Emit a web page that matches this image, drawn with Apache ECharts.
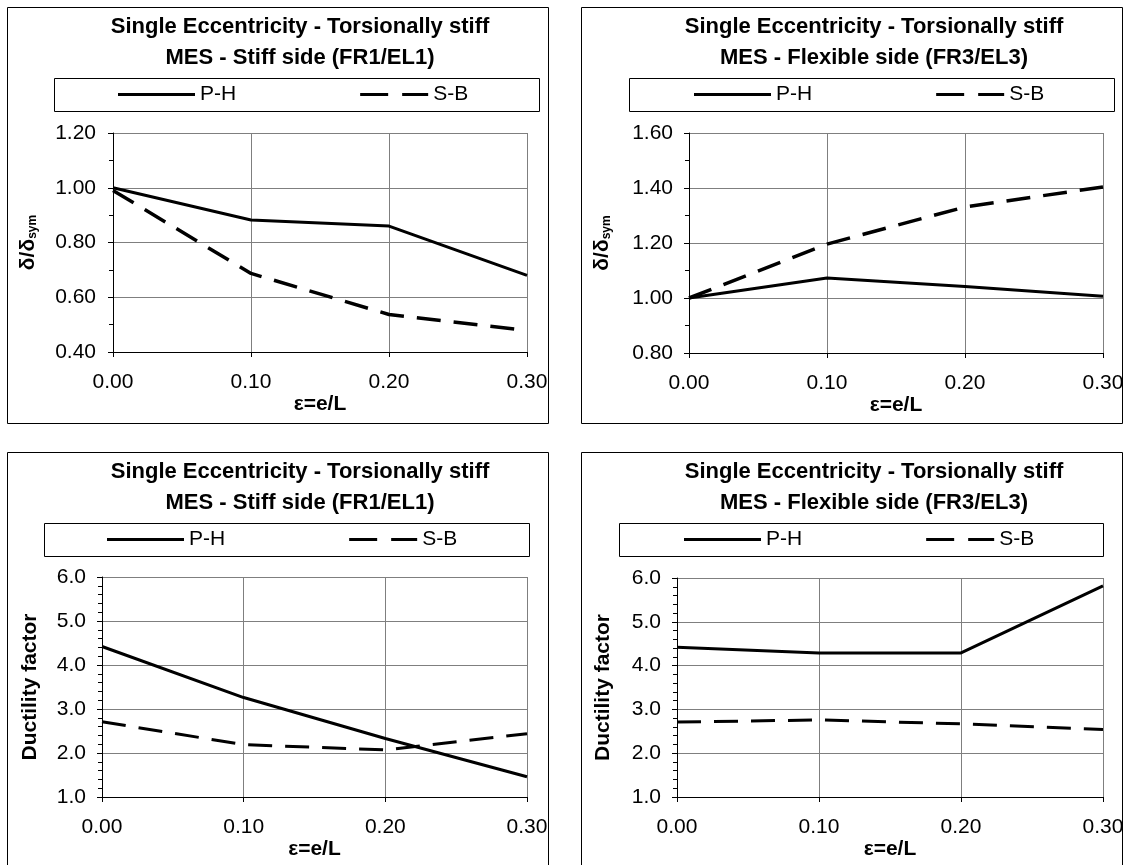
<!DOCTYPE html>
<html>
<head>
<meta charset="utf-8">
<script src="https://cdn.jsdelivr.net/npm/echarts@6/dist/echarts.min.js"></script>
<style>
html,body{margin:0;padding:0;background:#fff;}
#chart{width:1129px;height:865px;}
</style>
</head>
<body>
<div id="chart"></div>
<script>
// ---- data ----
const eccentricity = [0.00, 0.10, 0.20, 0.30];
const seriesNames = ['P-H', 'S-B'];
const titleLine1 = 'Single Eccentricity - Torsionally stiff';
const subtitleStiff = 'MES - Stiff side (FR1/EL1)';
const subtitleFlex = 'MES - Flexible side (FR3/EL3)';
const xAxisTitle = 'ε=e/L';
const dispAxisTitle = '{a|δ/δ}{b|sym}';
const ductAxisTitle = 'Ductility factor';

const stiffDispPH = [1.00, 0.882, 0.860, 0.680];
const stiffDispSB = [0.99, 0.687, 0.537, 0.479];
const flexDispPH  = [1.00, 1.073, 1.042, 1.006];
const flexDispSB  = [1.00, 1.196, 1.331, 1.404];
const stiffDuctPH = [4.42, 3.26, 2.33, 1.46];
const stiffDuctSB = [2.71, 2.19, 2.07, 2.44];
const flexDuctPH  = [4.42, 4.29, 4.29, 5.82];
const flexDuctSB  = [2.71, 2.76, 2.67, 2.54];

// ---- styling / layout ----
const FONT = '"Liberation Sans", Arial, sans-serif';
const pairs = arr => eccentricity.map((x, i) => [x, arr[i]]);
const ICON_SOLID = 'path://M0,0H77V3H0Z';
const ICON_DASH = 'path://M0,0L0,3M9,0H37V3H9ZM51,0H77V3H51Z';

const panels = [
  {sub: subtitleStiff, ph: stiffDispPH, sb: stiffDispSB, yMin: 0.4, yMax: 1.2, yInt: 0.2, dec: 2, minor: 2, yName: dispAxisTitle, dashW: 3.5,
   grid: {left: 113, top: 133, width: 414, height: 219}, border: [7, 7, 541, 416], legBox: [54, 78, 485, 33], legLeft: 118, legTop: 84,
   titleX: 300, titleY: 27, yGap: 74, yLabMargin: 17},
  {sub: subtitleFlex, ph: flexDispPH, sb: flexDispSB, yMin: 0.8, yMax: 1.6, yInt: 0.2, dec: 2, minor: 2, yName: dispAxisTitle, dashW: 3.5,
   grid: {left: 689, top: 133, width: 414, height: 220}, border: [581, 7, 541, 416], legBox: [629, 78, 485, 33], legLeft: 694, legTop: 84,
   titleX: 874, titleY: 27, yGap: 76, yLabMargin: 16},
  {sub: subtitleStiff, ph: stiffDuctPH, sb: stiffDuctSB, yMin: 1, yMax: 6, yInt: 1, dec: 1, minor: 5, yName: ductAxisTitle, dashW: 3,
   grid: {left: 102, top: 577, width: 425, height: 220}, border: [7, 452, 541, 430], legBox: [44, 523, 485, 33], legLeft: 107, legTop: 529,
   titleX: 300, titleY: 472, yGap: 61, yLabMargin: 16},
  {sub: subtitleFlex, ph: flexDuctPH, sb: flexDuctSB, yMin: 1, yMax: 6, yInt: 1, dec: 1, minor: 5, yName: ductAxisTitle, dashW: 3,
   grid: {left: 677, top: 578, width: 426, height: 219}, border: [581, 452, 541, 430], legBox: [619, 523, 484, 33], legLeft: 684, legTop: 529,
   titleX: 874, titleY: 472, yGap: 63, yLabMargin: 16}
];

const option = {
  backgroundColor: '#fff',
  animation: false,
  textStyle: {fontFamily: FONT, color: '#000'},
  grid: [], xAxis: [], yAxis: [], series: [], legend: [], graphic: []
};

panels.forEach((p, k) => {
  option.grid.push(Object.assign({containLabel: false}, p.grid));
  option.xAxis.push({
    type: 'value', gridIndex: k, min: 0, max: 0.3, interval: 0.1,
    name: xAxisTitle, nameLocation: 'middle', nameGap: 42,
    nameTextStyle: {fontSize: 21, fontWeight: 'bold', color: '#000', fontFamily: FONT},
    axisLine: {show: true, onZero: false, lineStyle: {color: '#000', width: 1}},
    axisTick: {show: true, inside: false, length: 5, lineStyle: {color: '#000'}},
    axisLabel: {fontSize: 21, color: '#000', margin: 20, fontFamily: FONT, formatter: v => v.toFixed(2)},
    splitLine: {show: true, lineStyle: {color: '#7f7f7f', width: 1}}
  });
  option.yAxis.push({
    type: 'value', gridIndex: k, min: p.yMin, max: p.yMax, interval: p.yInt,
    name: p.yName, nameLocation: 'middle', nameRotate: 90, nameGap: p.yGap,
    nameTextStyle: {fontSize: 21, fontWeight: 'bold', color: '#000', fontFamily: FONT,
      rich: {
        a: {fontSize: 21, fontWeight: 'bold', color: '#000', fontFamily: FONT, verticalAlign: 'bottom'},
        b: {fontSize: 12, fontWeight: 'bold', color: '#000', fontFamily: FONT, verticalAlign: 'bottom'}
      }},
    axisLine: {show: true, lineStyle: {color: '#000', width: 1}},
    axisTick: {show: true, inside: false, length: 5, lineStyle: {color: '#000'}},
    minorTick: {show: true, splitNumber: p.minor, length: 4, lineStyle: {color: '#000'}},
    axisLabel: {fontSize: 21, color: '#000', margin: p.yLabMargin, fontFamily: FONT, formatter: v => v.toFixed(p.dec)},
    splitLine: {show: true, lineStyle: {color: '#7f7f7f', width: 1}}
  });
  option.series.push({
    type: 'line', name: seriesNames[0], xAxisIndex: k, yAxisIndex: k, data: pairs(p.ph),
    symbol: 'none', lineStyle: {color: '#000', width: 3, type: 'solid'}, itemStyle: {color: '#000'}, z: 3
  });
  option.series.push({
    type: 'line', name: seriesNames[1], xAxisIndex: k, yAxisIndex: k, data: pairs(p.sb),
    symbol: 'none', lineStyle: {color: '#000', width: p.dashW, type: [24, 13]}, itemStyle: {color: '#000'}, z: 3
  });
  option.legend.push({
    data: [
      {name: seriesNames[0], icon: ICON_SOLID},
      {name: seriesNames[1], icon: ICON_DASH}
    ],
    left: p.legLeft, top: p.legTop, orient: 'horizontal', padding: 0,
    itemWidth: 77, itemHeight: 3, itemGap: 115, selectedMode: false,
    itemStyle: {color: '#000', borderWidth: 0, borderColor: 'transparent'},
    textStyle: {fontSize: 21, color: '#000', fontFamily: FONT}
  });
  const b = p.border, l = p.legBox;
  option.graphic.push({
    type: 'rect', silent: true, z: -1,
    shape: {x: b[0] + 0.5, y: b[1] + 0.5, width: b[2], height: b[3]},
    style: {fill: 'none', stroke: '#000', lineWidth: 1}
  });
  option.graphic.push({
    type: 'rect', silent: true,
    shape: {x: l[0] + 0.5, y: l[1] + 0.5, width: l[2], height: l[3]},
    style: {fill: 'none', stroke: '#000', lineWidth: 1}
  });
  option.graphic.push({
    type: 'text', silent: true, x: p.titleX, y: p.titleY + 15.5,
    style: {text: titleLine1 + '\n' + p.sub, align: 'center', verticalAlign: 'middle',
      font: 'bold 22px ' + FONT, lineHeight: 31, fill: '#000'}
  });
});

const chart = echarts.init(document.getElementById('chart'), null, {renderer: 'canvas'});
chart.setOption(option);
</script>
</body>
</html>
